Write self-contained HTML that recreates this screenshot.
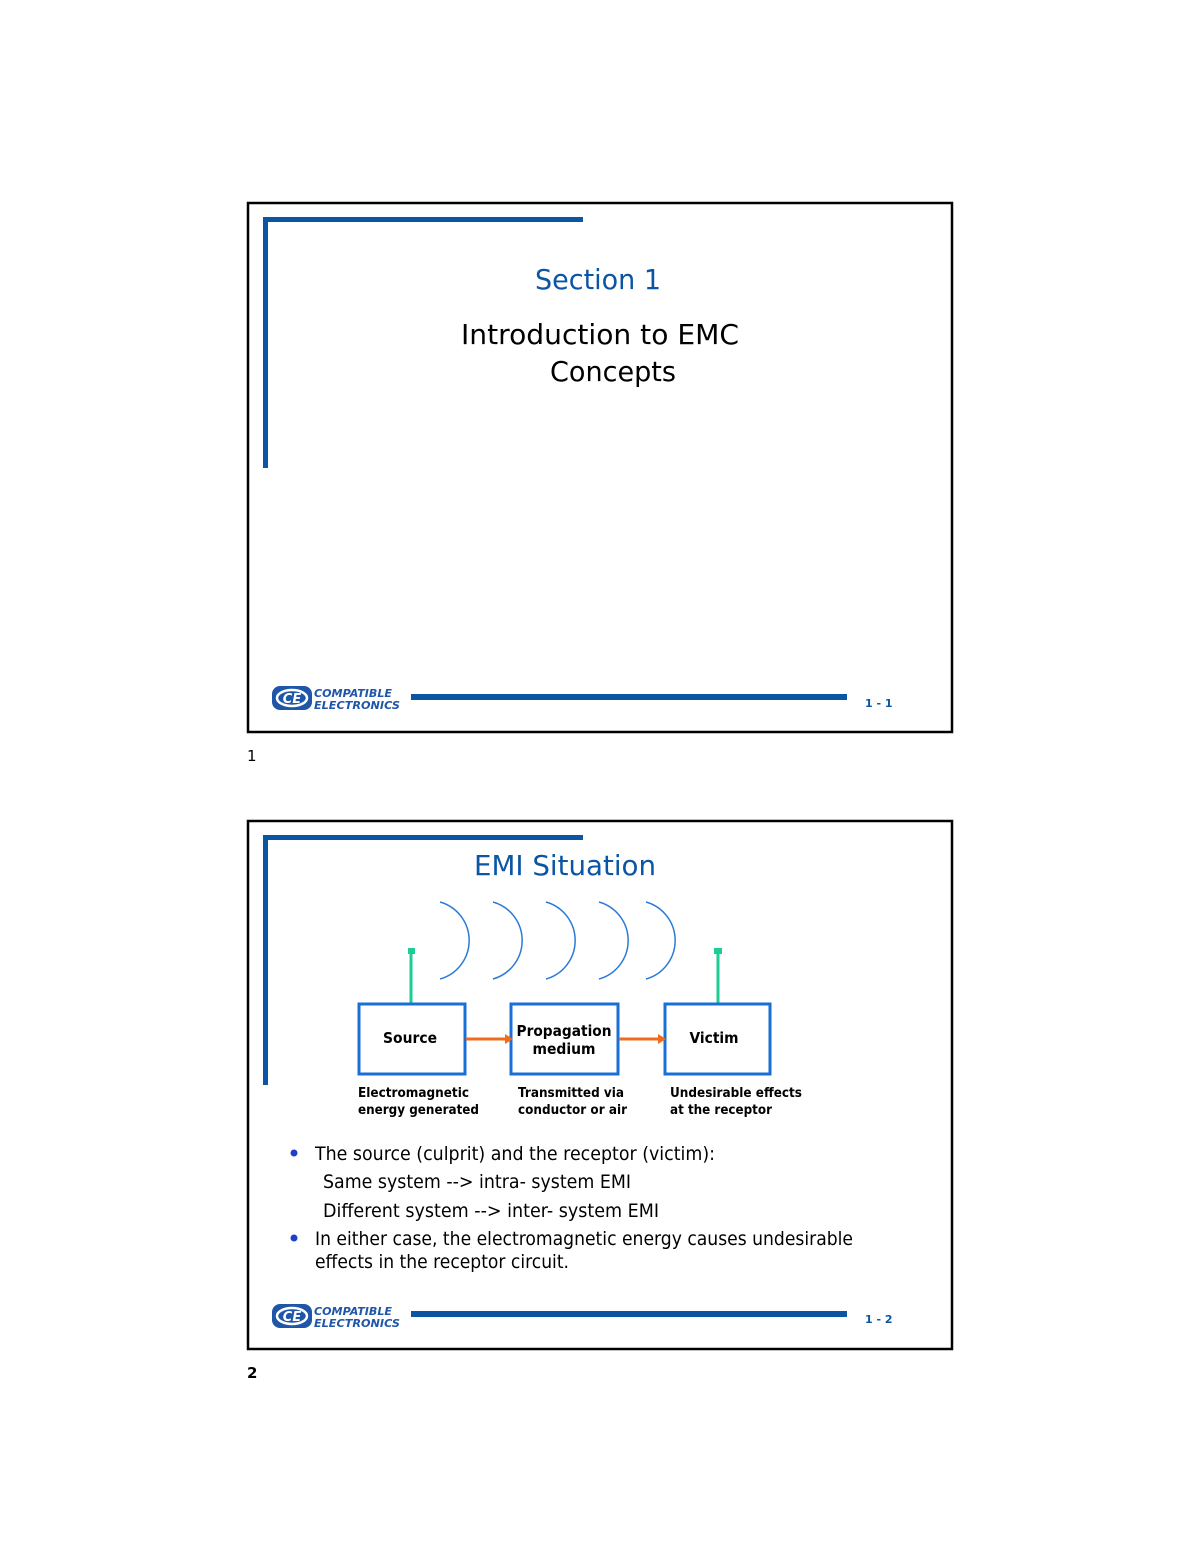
<!DOCTYPE html>
<html><head><meta charset="utf-8"><style>
html,body{margin:0;padding:0;background:#fff}
svg{display:block}
text{font-family:"DejaVu Sans","Liberation Sans",sans-serif}
</style></head><body>
<svg width="1200" height="1553" viewBox="0 0 1200 1553" xmlns="http://www.w3.org/2000/svg">
<defs>
<g id="logo">
  <rect x="0" y="0" width="40" height="24" rx="8" fill="#1f56a8"/>
  <ellipse cx="20" cy="12" rx="15" ry="8" fill="none" stroke="#fff" stroke-width="2.5"/>
  <text x="20" y="17" font-size="13" font-weight="bold" fill="#fff" text-anchor="middle" font-style="italic">CE</text>
  <text x="42" y="11" font-size="11" font-style="italic" font-weight="bold" fill="#1f56a8" textLength="78" lengthAdjust="spacingAndGlyphs">COMPATIBLE</text>
  <text x="42" y="23" font-size="11" font-style="italic" font-weight="bold" fill="#1f56a8" textLength="86" lengthAdjust="spacingAndGlyphs">ELECTRONICS</text>
</g>
</defs>

<!-- Slide 1 -->
<rect x="248" y="203" width="704" height="529" fill="none" stroke="#000" stroke-width="2.5"/>
<rect x="263" y="217" width="320" height="5" fill="#0b55a5"/>
<rect x="263" y="217" width="5" height="251" fill="#0b55a5"/>
<text x="598" y="289" font-size="28" fill="#0b55a5" text-anchor="middle" textLength="126" lengthAdjust="spacingAndGlyphs">Section 1</text>
<text x="600" y="344" font-size="28" fill="#000" text-anchor="middle" textLength="278" lengthAdjust="spacingAndGlyphs">Introduction to EMC</text>
<text x="613" y="381" font-size="28" fill="#000" text-anchor="middle" textLength="126" lengthAdjust="spacingAndGlyphs">Concepts</text>
<use href="#logo" x="272" y="686"/>
<rect x="411" y="694" width="436" height="6" fill="#0b55a5"/>
<text x="865" y="707" font-size="11" font-weight="bold" fill="#0b55a5">1 - 1</text>
<text x="247" y="761" font-size="15" fill="#000">1</text>

<!-- Slide 2 -->
<rect x="248" y="821" width="704" height="528" fill="none" stroke="#000" stroke-width="2.5"/>
<rect x="263" y="835" width="320" height="5" fill="#0b55a5"/>
<rect x="263" y="835" width="5" height="250" fill="#0b55a5"/>
<text x="565" y="875" font-size="28" fill="#0b55a5" text-anchor="middle" textLength="182" lengthAdjust="spacingAndGlyphs">EMI Situation</text>

<g fill="none" stroke="#2a7ad8" stroke-width="1.5">
  <path d="M440 902 A40 40 0 0 1 440 979"/>
  <path d="M493 902 A40 40 0 0 1 493 979"/>
  <path d="M546 902 A40 40 0 0 1 546 979"/>
  <path d="M599 902 A40 40 0 0 1 599 979"/>
  <path d="M646 902 A40 40 0 0 1 646 979"/>
</g>
<g stroke="#1ecc96" stroke-width="3">
  <line x1="411" y1="951" x2="411" y2="1003"/>
  <line x1="718" y1="951" x2="718" y2="1003"/>
</g>
<rect x="408" y="948" width="7" height="6" fill="#1ecc96"/>
<rect x="714" y="948" width="8" height="6" fill="#1ecc96"/>

<g fill="#fff" stroke="#1a6fd6" stroke-width="3">
  <rect x="359" y="1004" width="106" height="70"/>
  <rect x="511" y="1004" width="107" height="70"/>
  <rect x="665" y="1004" width="105" height="70"/>
</g>
<g stroke="#f26a1b" stroke-width="3">
  <line x1="466" y1="1039" x2="506" y2="1039"/>
  <line x1="619" y1="1039" x2="659" y2="1039"/>
</g>
<polygon points="505,1034 513,1039 505,1044" fill="#f26a1b"/>
<polygon points="658,1034 666,1039 658,1044" fill="#f26a1b"/>

<g font-size="15" font-weight="bold" fill="#000" text-anchor="middle">
  <text x="410" y="1043" textLength="54" lengthAdjust="spacingAndGlyphs">Source</text>
  <text x="564" y="1036" textLength="95" lengthAdjust="spacingAndGlyphs">Propagation</text>
  <text x="564" y="1054" textLength="63" lengthAdjust="spacingAndGlyphs">medium</text>
  <text x="714" y="1043" textLength="49" lengthAdjust="spacingAndGlyphs">Victim</text>
</g>
<g font-size="13" font-weight="bold" fill="#000">
  <text x="358" y="1097" textLength="111" lengthAdjust="spacingAndGlyphs">Electromagnetic</text>
  <text x="358" y="1114" textLength="121" lengthAdjust="spacingAndGlyphs">energy generated</text>
  <text x="518" y="1097" textLength="106" lengthAdjust="spacingAndGlyphs">Transmitted via</text>
  <text x="518" y="1114" textLength="109" lengthAdjust="spacingAndGlyphs">conductor or air</text>
  <text x="670" y="1097" textLength="132" lengthAdjust="spacingAndGlyphs">Undesirable effects</text>
  <text x="670" y="1114" textLength="102" lengthAdjust="spacingAndGlyphs">at the receptor</text>
</g>

<g fill="#1f3fc8">
  <circle cx="294" cy="1153" r="3.5"/>
  <circle cx="294" cy="1238" r="3.5"/>
</g>
<g font-size="19" fill="#000">
  <text x="315" y="1160" textLength="400" lengthAdjust="spacingAndGlyphs">The source (culprit) and the receptor (victim):</text>
  <text x="323" y="1188" textLength="308" lengthAdjust="spacingAndGlyphs">Same system --&gt; intra- system EMI</text>
  <text x="323" y="1217" textLength="336" lengthAdjust="spacingAndGlyphs">Different system --&gt; inter- system EMI</text>
  <text x="315" y="1245" textLength="538" lengthAdjust="spacingAndGlyphs">In either case, the electromagnetic energy causes undesirable</text>
  <text x="315" y="1268" textLength="254" lengthAdjust="spacingAndGlyphs">effects in the receptor circuit.</text>
</g>

<use href="#logo" x="272" y="1304"/>
<rect x="411" y="1311" width="436" height="6" fill="#0b55a5"/>
<text x="865" y="1323" font-size="11" font-weight="bold" fill="#0b55a5">1 - 2</text>
<text x="247" y="1378" font-size="15" font-weight="bold" fill="#000">2</text>
</svg>
</body></html>
